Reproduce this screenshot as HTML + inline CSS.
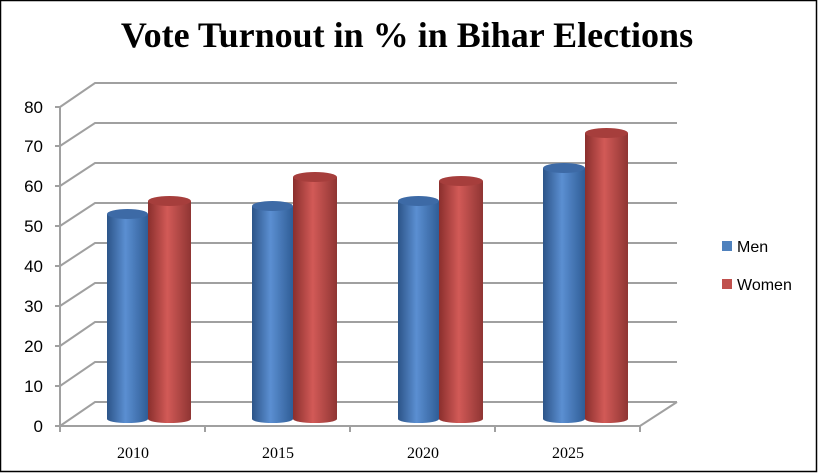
<!DOCTYPE html>
<html><head><meta charset="utf-8"><style>
body{margin:0;background:#fff}
svg{display:block}
</style></head><body>
<svg width="819" height="473" xmlns="http://www.w3.org/2000/svg">
<defs>
<linearGradient id="gb" x1="0" x2="1" y1="0" y2="0">
<stop offset="0" stop-color="#2c5488"/><stop offset="0.45" stop-color="#5b8fd2"/><stop offset="1" stop-color="#2f5d96"/></linearGradient>
<linearGradient id="gr" x1="0" x2="1" y1="0" y2="0">
<stop offset="0" stop-color="#8a2f2d"/><stop offset="0.45" stop-color="#d25a57"/><stop offset="1" stop-color="#8f3533"/></linearGradient>
</defs>
<rect x="0.5" y="0.5" width="816" height="471" fill="#fff" stroke="#000" stroke-width="1.5"/>
<text x="407" y="47" text-anchor="middle" font-family="Liberation Serif, serif" font-weight="bold" font-size="36">Vote Turnout in % in Bihar Elections</text>
<g stroke="#a0a0a0" stroke-width="2" fill="none">
<path d="M60 426 L95 402 L677 402"/>
<path d="M60 386 L95 362 L677 362"/>
<path d="M60 346 L95 322 L677 322"/>
<path d="M60 306 L95 283 L677 283"/>
<path d="M60 266 L95 243 L677 243"/>
<path d="M60 226 L95 203 L677 203"/>
<path d="M60 186 L95 163 L677 163"/>
<path d="M60 146 L95 123 L677 123"/>
<path d="M60 107 L95 83 L677 83"/>
<path d="M60 107 L60 426 L640 426 L677 402"/>
<path d="M55 426h5M55 386h5M55 346h5M55 306h5M55 266h5M55 226h5M55 186h5M55 146h5M55 107h5"/>
<path d="M60 426v6M205 426v6M350 426v6M495 426v6M640 426v6"/>
</g>
<g font-family="Liberation Sans, sans-serif" font-size="17" text-anchor="end" fill="#000">
<text x="43" y="432">0</text><text x="43" y="392">10</text><text x="43" y="352">20</text><text x="43" y="312">30</text><text x="43" y="272">40</text><text x="43" y="232">50</text><text x="43" y="192">60</text><text x="43" y="152">70</text><text x="43" y="113">80</text>
</g>
<g font-family="Liberation Serif, serif" font-size="16" text-anchor="middle">
<text x="133" y="458">2010</text><text x="278" y="458">2015</text><text x="423" y="458">2020</text><text x="568" y="458">2025</text>
</g>
<path d="M107 214 V419 A20.5 4 0 0 0 148 419 V214 Z" fill="url(#gb)"/><ellipse cx="127.5" cy="214" rx="20.5" ry="5" fill="#3d6aa6"/>
<path d="M252 206 V419 A20.5 4 0 0 0 293 419 V206 Z" fill="url(#gb)"/><ellipse cx="272.5" cy="206" rx="20.5" ry="5" fill="#3d6aa6"/>
<path d="M398 201 V419 A20.5 4 0 0 0 439 419 V201 Z" fill="url(#gb)"/><ellipse cx="418.5" cy="201" rx="20.5" ry="5" fill="#3d6aa6"/>
<path d="M543 168 V419 A21 4 0 0 0 585 419 V168 Z" fill="url(#gb)"/><ellipse cx="564" cy="168" rx="21" ry="5" fill="#3d6aa6"/>
<path d="M148 201 V419 A21.5 4 0 0 0 191 419 V201 Z" fill="url(#gr)"/><ellipse cx="169.5" cy="201" rx="21.5" ry="5" fill="#a63e3c"/>
<path d="M293 177 V419 A22 4 0 0 0 337 419 V177 Z" fill="url(#gr)"/><ellipse cx="315" cy="177" rx="22" ry="5" fill="#a63e3c"/>
<path d="M439 181 V419 A22 4 0 0 0 483 419 V181 Z" fill="url(#gr)"/><ellipse cx="461" cy="181" rx="22" ry="5" fill="#a63e3c"/>
<path d="M585 133 V419 A21.5 4 0 0 0 628 419 V133 Z" fill="url(#gr)"/><ellipse cx="606.5" cy="133" rx="21.5" ry="5" fill="#a63e3c"/>
<rect x="722" y="241" width="10" height="10" fill="#4f81bd"/>
<rect x="722" y="279" width="10" height="10" fill="#c0504d"/>
<g font-family="Liberation Sans, sans-serif" font-size="16">
<text x="737" y="252">Men</text><text x="737" y="290">Women</text>
</g>
</svg>
</body></html>
